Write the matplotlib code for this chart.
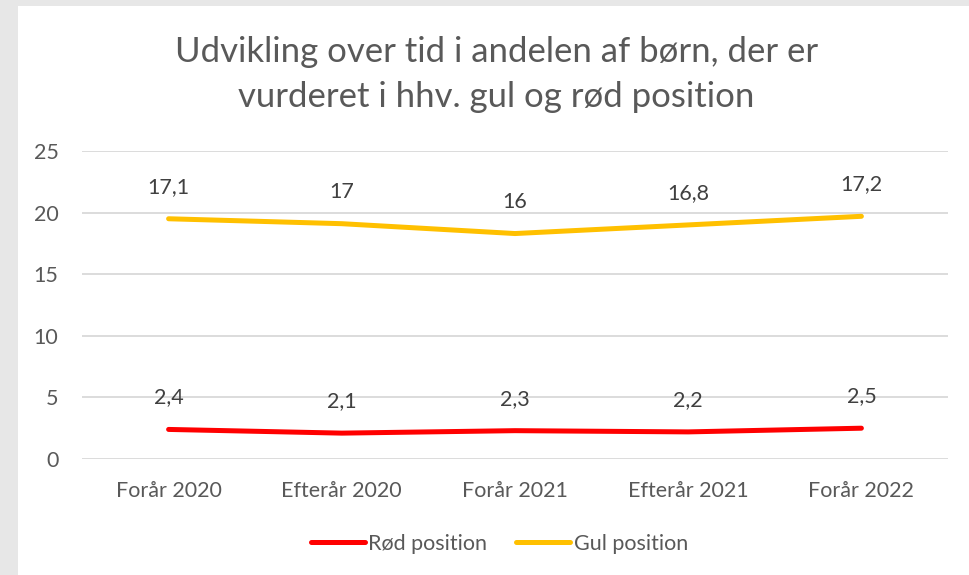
import matplotlib
matplotlib.use("Agg")
import matplotlib.pyplot as plt
from matplotlib.patches import Rectangle
import numpy as np

# data
categories = ["Forår 2020", "Efterår 2020", "Forår 2021", "Efterår 2021", "Forår 2022"]
roed = [2.4, 2.1, 2.3, 2.2, 2.5]
gul = [17.1, 17, 16, 16.8, 17.2]
y_ticks = [0, 5, 10, 15, 20, 25]

RED = "#FF0000"
YELLOW = "#FFC000"
TEXT = "#595959"
GRID = "#D9D9D9"

plt.rcParams["font.family"] = ["Lato", "DejaVu Sans"]


def fmt(v):
    # Danish decimal comma, no trailing zero
    s = f"{v:g}"
    return s.replace(".", ",")


fig = plt.figure(figsize=(9.7, 5.75), dpi=100, facecolor="#E7E7E7")
# white chart area inside the grey frame
fig.patches.append(Rectangle((18 / 970, 0), 1, 1 - 6 / 575, transform=fig.transFigure,
                             facecolor="white", edgecolor="none", zorder=-5))

ax = fig.add_axes([82 / 970, 1 - 459 / 575, 866 / 970, 308 / 575])
ax.set_facecolor("none")

x = np.arange(len(categories))
# stacked line chart: yellow series sits on top of the red one
gul_stacked = np.array(roed) + np.array(gul)

ax.plot(x, roed, color=RED, lw=3.6, solid_capstyle="round", label="Rød position", zorder=3)
ax.plot(x, gul_stacked, color=YELLOW, lw=3.6, solid_capstyle="round", label="Gul position", zorder=3)

for xi, v in zip(x, roed):
    ax.annotate(fmt(v), (xi, v), xytext=(0, 23), textcoords="offset points",
                ha="center", va="center", fontsize=15.5, color="#404040")
for xi, v, top in zip(x, gul, gul_stacked):
    ax.annotate(fmt(v), (xi, top), xytext=(0, 23), textcoords="offset points",
                ha="center", va="center", fontsize=15.5, color="#404040")

ax.set_xlim(-0.5, len(categories) - 0.5)
ax.set_ylim(0, 25)
ax.set_yticks(y_ticks)
ax.set_yticklabels([str(t) for t in y_ticks])
ax.set_xticks(x)
ax.set_xticklabels(categories)
ax.tick_params(axis="both", length=0, labelsize=15.5, colors=TEXT)
ax.tick_params(axis="y", pad=17)
ax.tick_params(axis="x", pad=16)
ax.yaxis.grid(True, color=GRID, lw=1.3)
ax.set_axisbelow(True)
for s in ax.spines.values():
    s.set_visible(False)

fig.text(0.512, 1 - 52 / 575, "Udvikling over tid i andelen af børn, der er",
         ha="center", va="center", fontsize=25, color=TEXT)
fig.text(0.512, 1 - 97 / 575, "vurderet i hhv. gul og rød position",
         ha="center", va="center", fontsize=25, color=TEXT)

leg = fig.legend(loc="center", bbox_to_anchor=(0.515, 1 - 544 / 575), ncol=2, frameon=False,
                 fontsize=15.5, handlelength=2.5, handletextpad=0.15, columnspacing=1.35)
for t in leg.get_texts():
    t.set_color(TEXT)

fig.savefig("out.png", dpi=100, facecolor=fig.get_facecolor())
